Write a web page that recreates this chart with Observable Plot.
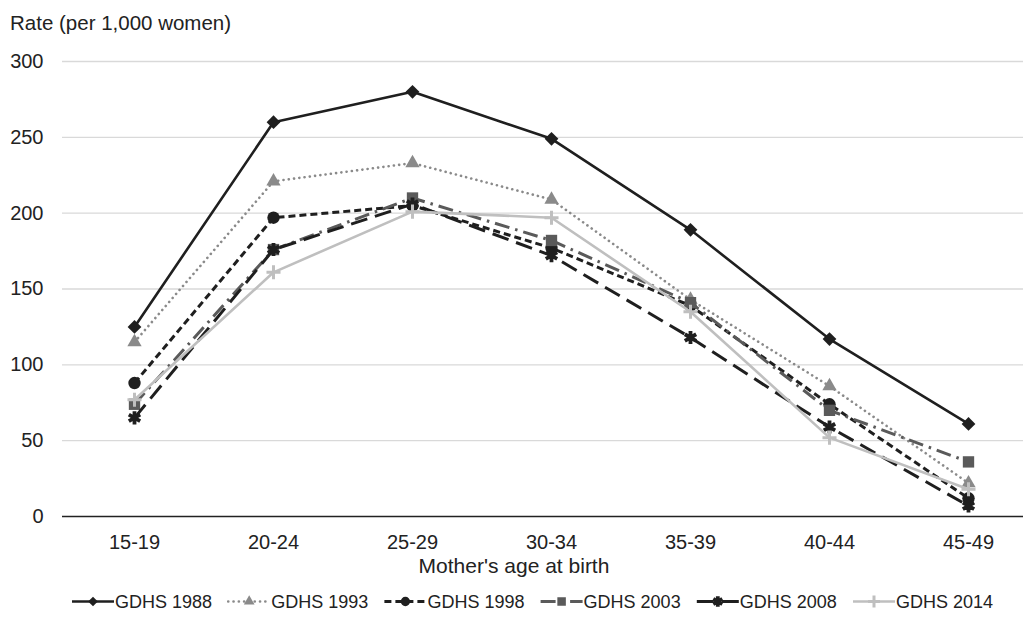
<!DOCTYPE html>
<html>
<head>
<meta charset="utf-8">
<script src="https://cdn.jsdelivr.net/npm/d3@7"></script>
<script src="https://cdn.jsdelivr.net/npm/@observablehq/plot@0.6"></script>
<style>
  html, body { margin: 0; padding: 0; background: #fff; overflow: hidden; }
  body { font-family: "Liberation Sans", Arial, sans-serif; color: #222; }
  #wrap { position: relative; width: 1023px; height: 618px; }
  #title { position: absolute; left: 10px; top: 11px; font-size: 20.5px; color: #222; white-space: nowrap; }
  #chart { position: absolute; left: 0; top: 0; }
  #legend { position: absolute; left: 0; top: 586px; }
</style>
</head>
<body>
<div id="wrap">
  <div id="chart"></div>
  <div id="title">Rate (per 1,000 women)</div>
  <div id="legend"></div>
</div>
<script>
// ---- data ----
const ages = ["15-19", "20-24", "25-29", "30-34", "35-39", "40-44", "45-49"];
const seriesNames = ["GDHS 1988", "GDHS 1993", "GDHS 1998", "GDHS 2003", "GDHS 2008", "GDHS 2014"];
const gdhs1988 = [125, 260, 280, 249, 189, 117, 61];
const gdhs1993 = [115, 221, 233, 209, 143, 86, 22];
const gdhs1998 = [88, 197, 205, 177, 139, 74, 12];
const gdhs2003 = [74, 176, 210, 182, 141, 70, 36];
const gdhs2008 = [65, 176, 206, 172, 118, 59, 7];
const gdhs2014 = [77, 161, 201, 197, 135, 52, 18];
const yTicks = [0, 50, 100, 150, 200, 250, 300];
const xLabel = "Mother's age at birth";

// ---- styles ----
const styles = [
  {values: gdhs1988, color: "#1f1f1f", width: 2.6, dash: null, symbol: "diamond2", r: 6.2, filled: true, mw: 0},
  {values: gdhs1993, color: "#8a8a8a", width: 2.6, dash: "0.1 5.2", cap: "round", symbol: "triangle", r: 5.3, filled: true, mw: 0},
  {values: gdhs1998, color: "#1f1f1f", width: 3, dash: "7 4", symbol: "circle", r: 6.2, filled: true, mw: 0},
  {values: gdhs2003, color: "#5a5a5a", width: 3, dash: "15 6 2.5 6", symbol: "square", r: 6.4, filled: true, mw: 0},
  {values: gdhs2008, color: "#1f1f1f", width: 3, dash: "17 8", symbol: "asterisk", r: 6.2, filled: false, mw: 3.8},
  {values: gdhs2014, color: "#bfbfbf", width: 2.6, dash: null, symbol: "plus", r: 4.6, filled: false, mw: 3}
];

const data = styles.flatMap((s, k) => ages.map((a, i) => ({age: a, value: s.values[i], series: seriesNames[k]})));

const marks = [
  Plot.ruleY(yTicks.filter(d => d > 0), {stroke: "#d9d9d9", strokeWidth: 1.3}),
  Plot.ruleY([0], {stroke: "#222", strokeWidth: 1.6}),
  Plot.axisY(yTicks, {tickSize: 0, tickPadding: 19, label: null, fontSize: 20, fill: "#222"}),
  Plot.axisX(ages, {tickSize: 0, tickPadding: 18, label: null, fontSize: 20, fill: "#222"}),
  Plot.text([xLabel], {frameAnchor: "bottom", dx: -29, dy: 56, fontSize: 21, fill: "#222"})
];

styles.forEach((s, k) => {
  const d = data.filter(e => e.series === seriesNames[k]);
  marks.push(Plot.line(d, {
    x: "age", y: "value", stroke: s.color, strokeWidth: s.width,
    strokeDasharray: s.dash || undefined, strokeLinecap: s.cap || "butt", strokeLinejoin: "round"
  }));
  marks.push(Plot.dot(d, {
    x: "age", y: "value", symbol: () => s.symbol, r: s.r,
    fill: s.filled ? s.color : "none",
    stroke: s.filled ? "none" : s.color,
    strokeWidth: s.mw || 1
  }));
});

const chart = Plot.plot({
  width: 1023,
  height: 580,
  marginLeft: 62,
  marginRight: 0,
  marginTop: 61,
  marginBottom: 64,
  x: {type: "point", domain: ages, range: [131, 970], padding: 0},
  y: {domain: [0, 300]},
  symbol: {type: "identity"},
  style: {fontFamily: "'Liberation Sans', Arial, sans-serif", fontSize: "20px", background: "white", color: "#222"},
  marks
});
document.getElementById("chart").appendChild(chart);

// ---- legend ----
const lg = d3.select("#legend").append("svg").attr("width", 1023).attr("height", 32)
  .style("font-family", "'Liberation Sans', Arial, sans-serif");
const symMap = {
  diamond2: d3.symbolDiamond2, triangle: d3.symbolTriangle, circle: d3.symbolCircle,
  square: d3.symbolSquare, asterisk: d3.symbolAsterisk, plus: d3.symbolPlus
};
const legScale = [0.7, 0.75, 0.75, 0.75, 0.8, 0.85];
styles.forEach((s, k) => {
  const x0 = 72 + k * 156.2, y0 = 15.5;
  const g = lg.append("g");
  g.append("line").attr("x1", x0).attr("x2", x0 + 42).attr("y1", y0).attr("y2", y0)
    .attr("stroke", s.color).attr("stroke-width", s.width)
    .attr("stroke-dasharray", s.dash).attr("stroke-linecap", s.cap || "butt");
  const rr = s.r * legScale[k];
  g.append("path").attr("transform", `translate(${x0 + 21},${y0})`)
    .attr("d", d3.symbol(symMap[s.symbol], Math.PI * rr * rr)())
    .attr("fill", s.filled ? s.color : "none")
    .attr("stroke", s.filled ? "none" : s.color)
    .attr("stroke-width", s.mw || 0);
  g.append("text").attr("x", x0 + 43).attr("y", y0 + 6.5)
    .attr("font-size", 18).attr("fill", "#222").text(seriesNames[k]);
});
</script>
</body>
</html>
